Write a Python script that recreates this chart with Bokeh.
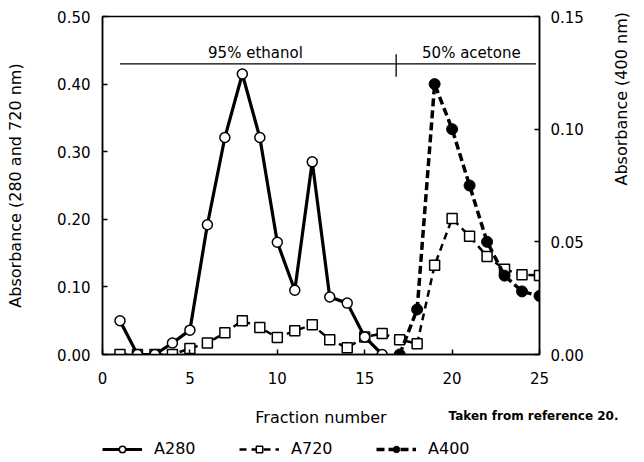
import math
from bokeh.plotting import figure
from bokeh.layouts import column
from bokeh.models import (Range1d, LinearAxis, FixedTicker, NumeralTickFormatter,
                          Title, Legend, LegendItem)
from bokeh.embed import file_html
from bokeh.resources import INLINE
from bokeh.core.properties import value

# ---- data ----
fraction_a280 = [1, 2, 3, 4, 5, 6, 7, 8, 9, 10, 11, 12, 13, 14, 15, 16]
a280 = [0.050, 0.0, 0.0, 0.017, 0.036, 0.192, 0.321, 0.415, 0.321, 0.166,
        0.095, 0.285, 0.085, 0.076, 0.026, 0.0]

fraction_a720 = [1, 2, 3, 4, 5, 6, 7, 8, 9, 10, 11, 12, 13, 14, 15, 16, 17,
                 18, 19, 20, 21, 22, 23, 24, 25]
a720 = [0.0, 0.0, 0.0, 0.0, 0.009, 0.017, 0.032, 0.050, 0.040, 0.025, 0.035,
        0.044, 0.022, 0.010, 0.026, 0.031, 0.022, 0.016, 0.132, 0.201, 0.175,
        0.145, 0.126, 0.118, 0.117]

fraction_a400 = [17, 18, 19, 20, 21, 22, 23, 24, 25]
a400 = [0.0, 0.020, 0.120, 0.100, 0.075, 0.050, 0.035, 0.028, 0.026]

x_ticks = [0, 5, 10, 15, 20, 25]
left_ticks = [0.0, 0.1, 0.2, 0.3, 0.4, 0.5]
right_ticks = [0.0, 0.05, 0.10, 0.15]

solvent_labels = ["95% ethanol", "50% acetone"]
solvent_label_x = [8.75, 21.1]
solvent_label_y = [0.433, 0.433]
solvent_bar_x = [1.0, 24.8]
solvent_bar_y = [0.430, 0.430]
solvent_change_x = [16.8, 16.8]
solvent_change_y = [0.411, 0.444]

series_names = ["A280", "A720", "A400"]
credit_text = "Taken from reference 20."

FONT = "DejaVu Sans"

LINE_280 = dict(line_color="black", line_width=3.2)
MARK_280 = dict(marker="circle", size=10, fill_color="white",
                line_color="black", line_width=1.5)
LINE_720 = dict(line_color="black", line_width=2.5, line_dash="7 5")
MARK_720 = dict(marker="square", size=10, fill_color="white",
                line_color="black", line_width=1.5)
LINE_400 = dict(line_color="black", line_width=3.5, line_dash="8 4")
MARK_400 = dict(marker="circle", size=11, fill_color="black",
                line_color="black", line_width=1)

p = figure(width=None, height=None, frame_width=437, frame_height=338,
           output_backend="svg", toolbar_location=None,
           x_range=Range1d(0, 25), y_range=Range1d(0, 0.5),
           min_border_left=102, min_border_right=105, min_border_top=16,
           min_border_bottom=80)
p.title.visible = False
p.extra_y_ranges = {"a400": Range1d(0, 0.15)}
p.grid.visible = False
p.outline_line_color = "black"
p.outline_line_width = 1.5
p.background_fill_color = "white"
p.border_fill_color = "white"

right_axis = LinearAxis(y_range_name="a400")
p.add_layout(right_axis, "right")

xaxis = p.xaxis[0]
yaxis = p.yaxis[0]

for ax in (xaxis, yaxis, right_axis):
    ax.major_tick_in = 5
    ax.major_tick_out = 0
    ax.minor_tick_in = 0
    ax.minor_tick_out = 0
    ax.axis_line_width = 1.5
    ax.axis_line_color = "black"
    ax.major_tick_line_width = 1.5
    ax.major_tick_line_color = "black"
    ax.major_label_text_font = FONT
    ax.major_label_text_font_size = "15px"
    ax.major_label_text_color = "black"
    ax.axis_label_text_font = FONT
    ax.axis_label_text_font_size = "16px"
    ax.axis_label_text_font_style = "normal"
    ax.axis_label_text_color = "black"

xaxis.ticker = FixedTicker(ticks=x_ticks)
xaxis.axis_label = "Fraction number"
xaxis.major_label_standoff = 17
xaxis.axis_label_standoff = 21

yaxis.ticker = FixedTicker(ticks=left_ticks)
yaxis.formatter = NumeralTickFormatter(format="0.00")
yaxis.axis_label = "Absorbance (280 and 720 nm)"
yaxis.major_label_standoff = 12
yaxis.axis_label_standoff = 29

right_axis.ticker = FixedTicker(ticks=right_ticks)
right_axis.formatter = NumeralTickFormatter(format="0.00")
right_axis.axis_label = "Absorbance (400 nm)"
right_axis.major_label_standoff = 11
right_axis.axis_label_standoff = 35
try:
    right_axis.axis_label_orientation = math.pi / 2
except Exception:
    pass

# solvent annotations
p.line(solvent_bar_x, solvent_bar_y, line_color="black", line_width=1.3)
p.line(solvent_change_x, solvent_change_y, line_color="black", line_width=1.3)
p.text(solvent_label_x, solvent_label_y, text=solvent_labels,
       text_font=value(FONT), text_font_size="15px", text_align="center",
       text_baseline="bottom", text_color="black")

# series
p.line(fraction_a720, a720, **LINE_720)
p.scatter(fraction_a720, a720, **MARK_720)
p.line(fraction_a280, a280, **LINE_280)
p.scatter(fraction_a280, a280, **MARK_280)
p.line(fraction_a400, a400, y_range_name="a400", **LINE_400)
p.scatter(fraction_a400, a400, y_range_name="a400", **MARK_400)

credit = Title(text=credit_text, align="left", vertical_align="top",
               offset=346, standoff=-42,
               text_font=FONT, text_font_size="12px", text_font_style="bold",
               text_color="black")
p.add_layout(credit, "below")

# ---- legend strip below the chart (series re-used, kept out of view) ----
p2 = figure(width=644, height=28, output_backend="svg", toolbar_location=None,
            x_range=Range1d(-100, -99), y_range=Range1d(0, 1),
            x_axis_location=None, y_axis_location=None, min_border=0)
p2.title.visible = False
p2.grid.visible = False
p2.outline_line_color = None
p2.background_fill_color = "white"
p2.border_fill_color = "white"

items = []
for name, xs, ys, lsty, msty in zip(
        series_names,
        [fraction_a280, fraction_a720, fraction_a400],
        [a280, a720, a400],
        [LINE_280, LINE_720, LINE_400],
        [MARK_280, MARK_720, MARK_400]):
    lr = p2.line(xs, ys, **lsty)
    mr = p2.scatter(xs, ys, **msty)
    items.append(LegendItem(label=name, renderers=[lr, mr]))

legend = Legend(items=items, orientation="horizontal", location=(0, 4),
                border_line_color=None, background_fill_alpha=0,
                padding=0, margin=0, spacing=28, label_standoff=12,
                glyph_width=40, glyph_height=16, label_width=57,
                label_text_font=FONT, label_text_font_size="16px",
                label_text_color="black")
p2.add_layout(legend, "center")

layout = column(p, p2, spacing=0)
open("out.html", "w").write(file_html(layout, INLINE))
